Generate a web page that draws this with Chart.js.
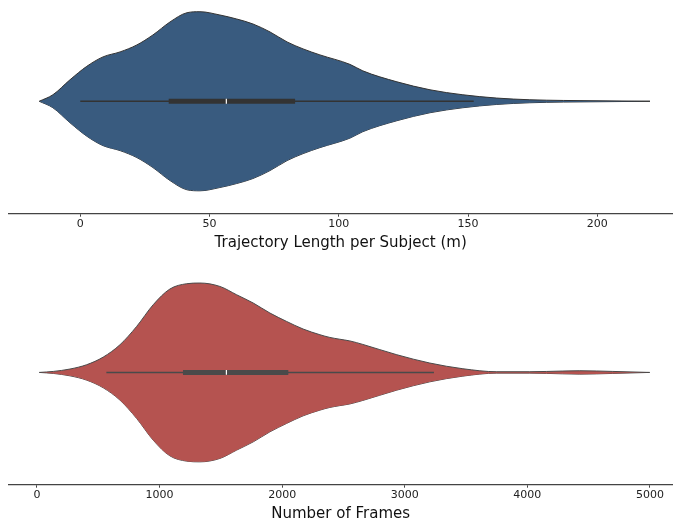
<!DOCTYPE html>
<html>
<head>
<meta charset="utf-8">
<script src="https://cdn.jsdelivr.net/npm/chart.js@4.4.0/dist/chart.umd.min.js"></script>
<style>
html, body { margin: 0; padding: 0; background: #fff; overflow: hidden; }
#wrap { position: relative; width: 673px; height: 520px; overflow: hidden; }
canvas { position: absolute; left: 0; }
</style>
</head>
<body>
<div id="wrap">
  <canvas id="length-graph" width="673" height="260" style="top:0"></canvas>
  <canvas id="frames-graph" width="673" height="266" style="top:260px"></canvas>
</div>
<script>
// trajectory length per subject (m): kde outline
var lengthGrid    = [-15.9, -10.6, -4.0, 2.5, 8.8, 15.4, 21.9, 28.1, 34.7, 41.3, 46.3, 54.0, 60.5, 66.8, 73.4, 80.0, 86.2, 92.7, 104.3, 109.3, 122.5, 135.3, 148.0, 161.1, 173.9, 187.0, 199.9, 220.4];
var lengthDensity = [0, 6.5, 21.5, 35, 44.5, 49.5, 56.5, 66.5, 79.5, 88.8, 89.8, 86.5, 82.5, 77.5, 69.5, 59.5, 52.5, 46.5, 37, 30.5, 19.5, 11.5, 6.5, 3.2, 1.5, 0.8, 0.5, 0];
// whisker low, q1, median, q3, whisker high
var lengthBox     = [0, 34.2, 56.5, 83.1, 152.2];
var lengthTicks   = [0, 50, 100, 150, 200];

// number of frames
var framesGrid    = [19, 133, 269, 405, 541, 677, 813, 948, 1084, 1221, 1329, 1492, 1628, 1764, 1900, 2036, 2171, 2308, 2389, 2470, 2552, 2658, 2935, 3204, 3474, 3751, 4020, 4289, 4428, 4697, 4998];
var framesDensity = [0, 1, 3.4, 7.7, 15.4, 27.7, 46, 67.7, 83.4, 88.7, 89.4, 86, 77.7, 69.4, 59.4, 51, 43.4, 37.7, 35, 33.2, 31.5, 28, 17.7, 9.4, 3.7, 0.7, 0.7, 1.4, 1.7, 1, 0];
var framesBox     = [566, 1191, 1545, 2050, 3238];
var framesTicks   = [0, 1000, 2000, 3000, 4000, 5000];

var axisFont = "'DejaVu Sans', sans-serif";

function violinChart(canvasId, grid, density, box, ticks, xMin, xMax, yMax, fillColor, lineColor, boxColor, title, padBottom){
    var peak = Math.max.apply(null, density);
    var upper = [];
    var lower = [];
    for(let i = 0; i < grid.length; i++){
        upper.push({x: grid[i], y: density[i] / peak * 0.4});
        lower.push({x: grid[i], y: -density[i] / peak * 0.4});
    }

    return new Chart(document.getElementById(canvasId), {
        type: "line",
        data: {
            datasets: [
                {data: upper, fill: "+1", backgroundColor: fillColor, borderColor: lineColor, borderWidth: 1,
                 pointRadius: 0, cubicInterpolationMode: "monotone", order: 3},
                {data: lower, fill: false, borderColor: lineColor, borderWidth: 1,
                 pointRadius: 0, cubicInterpolationMode: "monotone", order: 3},
                {data: [{x: box[0], y: 0}, {x: box[4], y: 0}], borderColor: boxColor, borderWidth: 1.6,
                 pointRadius: 0, fill: false, order: 2},
                {data: [{x: box[1], y: 0}, {x: box[3], y: 0}], borderColor: boxColor, borderWidth: 5,
                 borderCapStyle: "butt", pointRadius: 0, fill: false, order: 1},
                {data: [{x: box[2], y: 0}], showLine: false, pointStyle: "line", pointRotation: 90,
                 pointRadius: 2.4, pointBorderColor: "#ffffff", borderColor: "#ffffff", pointBorderWidth: 1.2, order: 0}
            ]
        },
        options: {
            responsive: false,
            devicePixelRatio: 1,
            animation: false,
            events: [],
            layout: {autoPadding: false, padding: {left: 8.3, right: 0, top: 0, bottom: padBottom}},
            plugins: {legend: {display: false}, tooltip: {enabled: false}},
            scales: {
                x: {
                    type: "linear",
                    min: xMin,
                    max: xMax,
                    afterBuildTicks: function(scale){
                        scale.ticks = ticks.map(function(v){ return {value: v}; });
                    },
                    afterFit: function(scale){
                        scale.paddingLeft = 0;
                        scale.paddingRight = 0;
                    },
                    grid: {drawOnChartArea: false, drawTicks: true, tickLength: 3.5, color: "#444", lineWidth: 1},
                    border: {display: true, color: "#444", width: 1.25},
                    ticks: {
                        color: "#222", padding: 1, maxRotation: 0,
                        font: {family: axisFont, size: 11, lineHeight: 1.2},
                        callback: function(v){ return String(v); }
                    },
                    title: {display: true, text: title, color: "#111", padding: {top: 3, bottom: 0},
                            font: {family: axisFont, size: 15, lineHeight: 1.1}}
                },
                y: {
                    type: "linear",
                    display: false,
                    min: -0.5,
                    max: yMax
                }
            }
        }
    });
}

var lengthChart = violinChart("length-graph", lengthGrid, lengthDensity, lengthBox, lengthTicks,
    -27.85, 229.3, 0.4523, "#395b7f", "#333333", "#333333", "Trajectory Length per Subject (m)", 8.6);

var framesChart = violinChart("frames-graph", framesGrid, framesDensity, framesBox, framesTicks,
    -234, 5188, 0.503, "#b55350", "#4a4a4a", "#4a4a4a", "Number of Frames", 3.6);
</script>
</body>
</html>
